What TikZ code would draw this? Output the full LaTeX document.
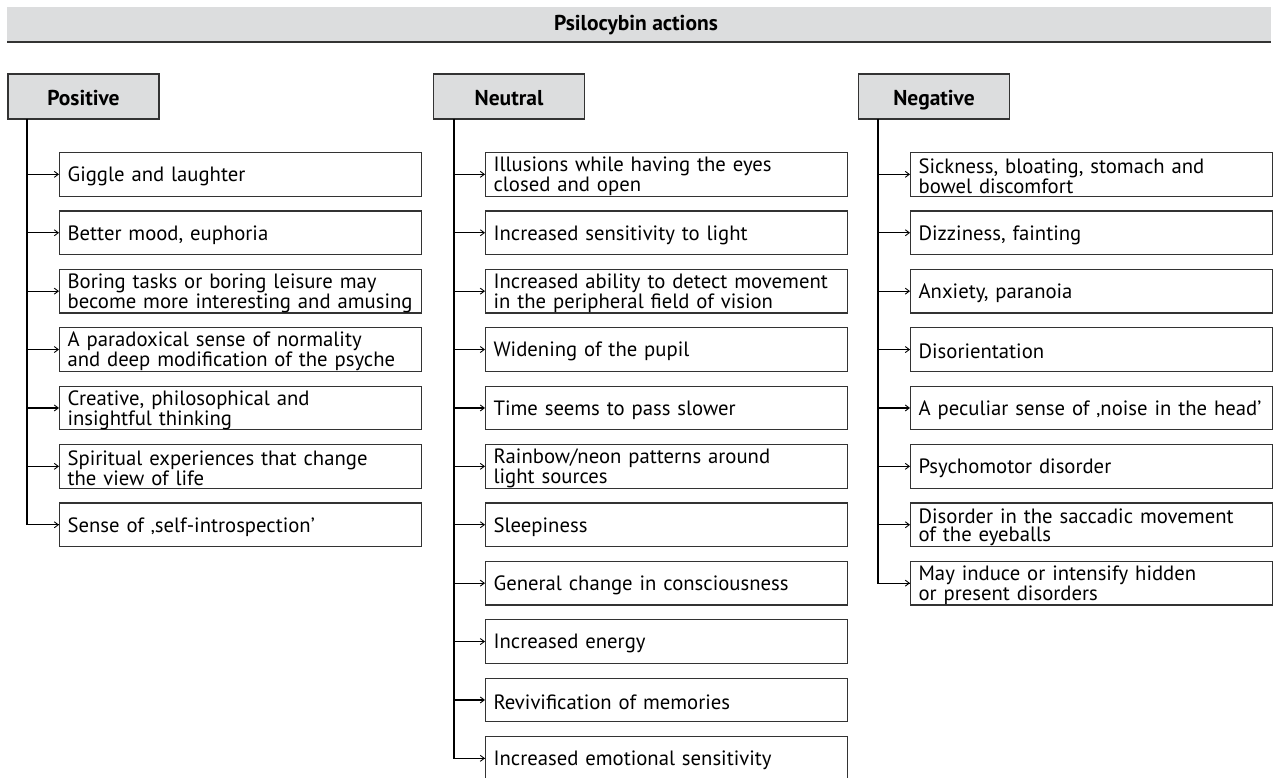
\documentclass[tikz,border=0pt]{standalone}
\usepackage{fontspec}
\setmainfont{PT Sans}
\usetikzlibrary{arrows.meta}
\definecolor{hdrgray}{HTML}{DCDDDE}
\definecolor{edge}{HTML}{333333}
\tikzset{
  itembox/.style={draw=edge, line width=1.2pt, fill=white, anchor=north west,
    text width=346pt, minimum height=43.5pt, inner xsep=8pt, inner ysep=0pt,
    align=left, font=\fontsize{20.7}{18}\selectfont,
    execute at begin node={\rule{0pt}{19pt}}},
  hdrbox/.style={draw=edge, line width=1.3pt, fill=hdrgray, minimum width=151pt,
    minimum height=45pt, inner sep=0pt, text height=19pt, text depth=0pt,
    font=\fontsize{21.5}{24}\selectfont\bfseries},
  trunk/.style={draw=black, line width=1.1pt},
  feed/.style={draw=black, line width=1.1pt, -{Straight Barb[length=4pt,width=6pt,line width=0.9pt]}}
}
\begin{document}
\begin{tikzpicture}[x=1pt,y=-1pt]
\useasboundingbox (0,0) rectangle (1273,778);
% title bar
\fill[hdrgray] (7,7) rectangle (1271,42);
\draw[edge, line width=2pt] (7,42) -- (1271,42);
\node[font=\fontsize{21.5}{24}\selectfont\bfseries] (title) at (636,25) {Psilocybin actions};
% headers
\node[hdrbox] (pos) at (83.5,96.5) {Positive};
\node[hdrbox] (neu) at (509,96.5) {Neutral};
\node[hdrbox] (neg) at (934,96.5) {Negative};
\coordinate (tP) at (27,119);
\coordinate (tN) at (454,119);
\coordinate (tG) at (878,119);
% positive
\foreach \i/\t in {
 1/{Giggle and laughter},
 2/{Better mood, euphoria},
 3/{Boring tasks or boring leisure may\\become more interesting and amusing},
 4/{A paradoxical sense of normality\\and deep modification of the psyche},
 5/{Creative, philosophical and\\insightful thinking},
 6/{Spiritual experiences that change\\the view of life},
 7/{Sense of ‚self-introspection’}}{
  \node[itembox] (p\i) at (59,{152+58.4*(\i-1)}) {\t};
  \draw[feed] (tP |- p\i.west) -- (p\i.west);
}
\draw[trunk] (tP) |- (p7.west);
% neutral
\foreach \i/\t in {
 1/{Illusions while having the eyes\\closed and open},
 2/{Increased sensitivity to light},
 3/{Increased ability to detect movement\\in the peripheral field of vision},
 4/{Widening of the pupil},
 5/{Time seems to pass slower},
 6/{Rainbow/neon patterns around\\light sources},
 7/{Sleepiness},
 8/{General change in consciousness},
 9/{Increased energy},
 10/{Revivification of memories},
 11/{Increased emotional sensitivity}}{
  \node[itembox] (n\i) at (485,{152+58.4*(\i-1)}) {\t};
  \draw[feed] (tN |- n\i.west) -- (n\i.west);
}
\draw[trunk] (tN) |- (n11.west);
% negative
\foreach \i/\t in {
 1/{Sickness, bloating, stomach and\\bowel discomfort},
 2/{Dizziness, fainting},
 3/{Anxiety, paranoia},
 4/{Disorientation},
 5/{A peculiar sense of ‚noise in the head’},
 6/{Psychomotor disorder},
 7/{Disorder in the saccadic movement\\of the eyeballs},
 8/{May induce or intensify hidden\\or present disorders}}{
  \node[itembox] (g\i) at (910,{152+58.4*(\i-1)}) {\t};
  \draw[feed] (tG |- g\i.west) -- (g\i.west);
}
\draw[trunk] (tG) |- (g8.west);
\end{tikzpicture}
\end{document}
